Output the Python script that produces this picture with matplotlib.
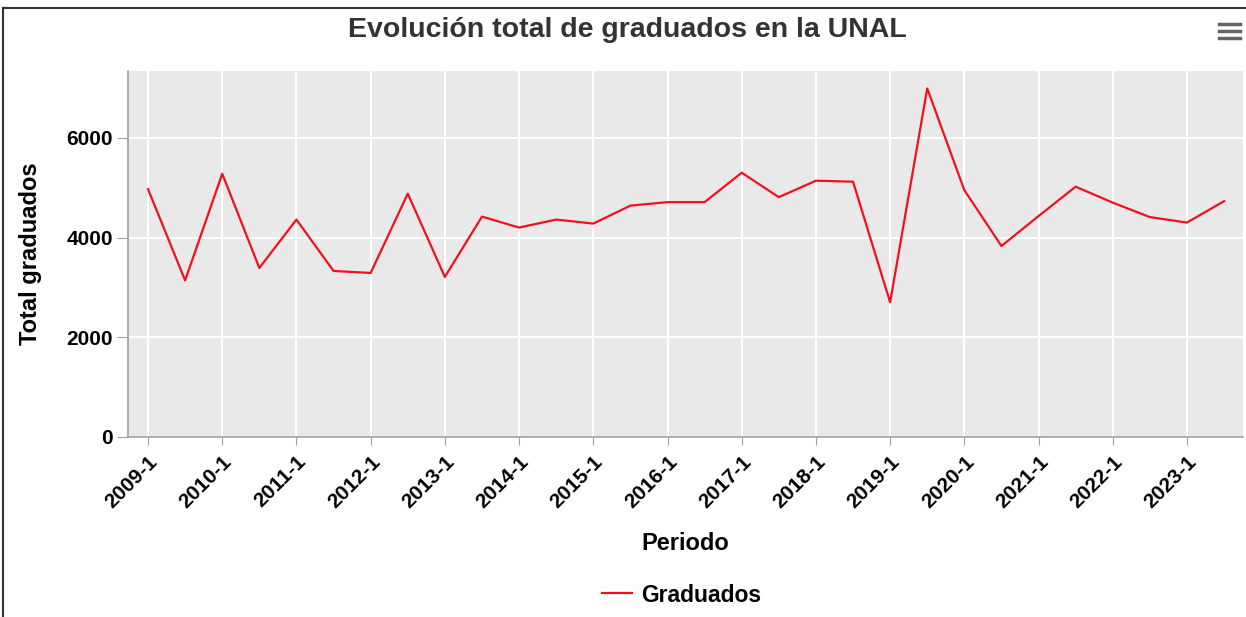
import matplotlib.pyplot as plt
from matplotlib.lines import Line2D

periodos = [f"{y}-{s}" for y in range(2009, 2024) for s in (1, 2)]
graduados = [4970, 3140, 5280, 3390, 4360, 3330, 3290, 4880, 3210, 4420,
             4200, 4360, 4280, 4640, 4710, 4710, 5300, 4810, 5140, 5120,
             2700, 6990, 4950, 3830, 4430, 5020, 4700, 4410, 4300, 4730]
y_ticks = [0, 2000, 4000, 6000]

plt.rcParams['font.family'] = ['Liberation Sans', 'DejaVu Sans']

fig = plt.figure(figsize=(12.46, 6.17), dpi=100)
W, H = 1246, 617
left, right, top, bottom = 128, 1243, 71, 437
ax = fig.add_axes([left / W, 1 - bottom / H, (right - left) / W, (bottom - top) / H])
ax.set_facecolor('#e9e9e9')

x = list(range(len(periodos)))
ax.plot(x, graduados, color='#f0101e', lw=1.6, zorder=3)

ax.set_xlim(-0.54, len(periodos) - 1 + 0.51)
ax.set_ylim(0, 7340)

ax.set_xticks(x[::2])
ax.set_xticklabels(periodos[::2], rotation=45, ha='right', va='top',
                   rotation_mode='anchor', fontsize=15, fontweight='bold')
ax.set_yticks(y_ticks)
ax.set_yticklabels([str(v) for v in y_ticks], fontsize=15, fontweight='bold')
ax.grid(True, color='white', lw=1.5, zorder=1)
ax.set_axisbelow(True)

for s in ('top', 'right'):
    ax.spines[s].set_visible(False)
for s in ('left', 'bottom'):
    ax.spines[s].set_color('#a0a0a0')
    ax.spines[s].set_linewidth(1.2)
ax.tick_params(axis='x', length=6, color='#a0a0a0', pad=5)
ax.tick_params(axis='y', length=8, color='#a0a0a0', pad=3)

ax.set_xlabel('Periodo', fontsize=17, fontweight='bold')
ax.xaxis.set_label_coords(0.5, -(544 - bottom) / (bottom - top), transform=ax.transAxes)
ax.xaxis.label.set_va('center')
ax.set_ylabel('Total graduados', fontsize=17, fontweight='bold')
ax.yaxis.set_label_coords(-(left - 31) / (right - left), 0.5, transform=ax.transAxes)
ax.yaxis.label.set_va('center')

fig.text(627 / W, 1 - 30 / H, 'Evolución total de graduados en la UNAL',
         ha='center', va='center', fontsize=20.5, fontweight='bold', color='#333333')

# menu icon
for yy in (24, 31, 38):
    fig.add_artist(Line2D([1219 / W, 1240 / W], [1 - yy / H, 1 - yy / H],
                          color='#666666', lw=2.5))

handle = Line2D([], [], color='#f0101e', lw=1.6)
fig.legend([handle], ['Graduados'], loc='center', bbox_to_anchor=(682 / W, 1 - 595 / H),
           frameon=False, prop={'weight': 'bold', 'size': 16.5}, handlelength=1.3,
           handletextpad=0.4)

# outer frame on left/top like the screenshot
fig.add_artist(Line2D([3 / W, 3 / W], [0, 1 - 8 / H], color='#333333', lw=1.5))
fig.add_artist(Line2D([3 / W, 1], [1 - 8 / H, 1 - 8 / H], color='#333333', lw=1.5))

fig.savefig('out.png', dpi=100)
